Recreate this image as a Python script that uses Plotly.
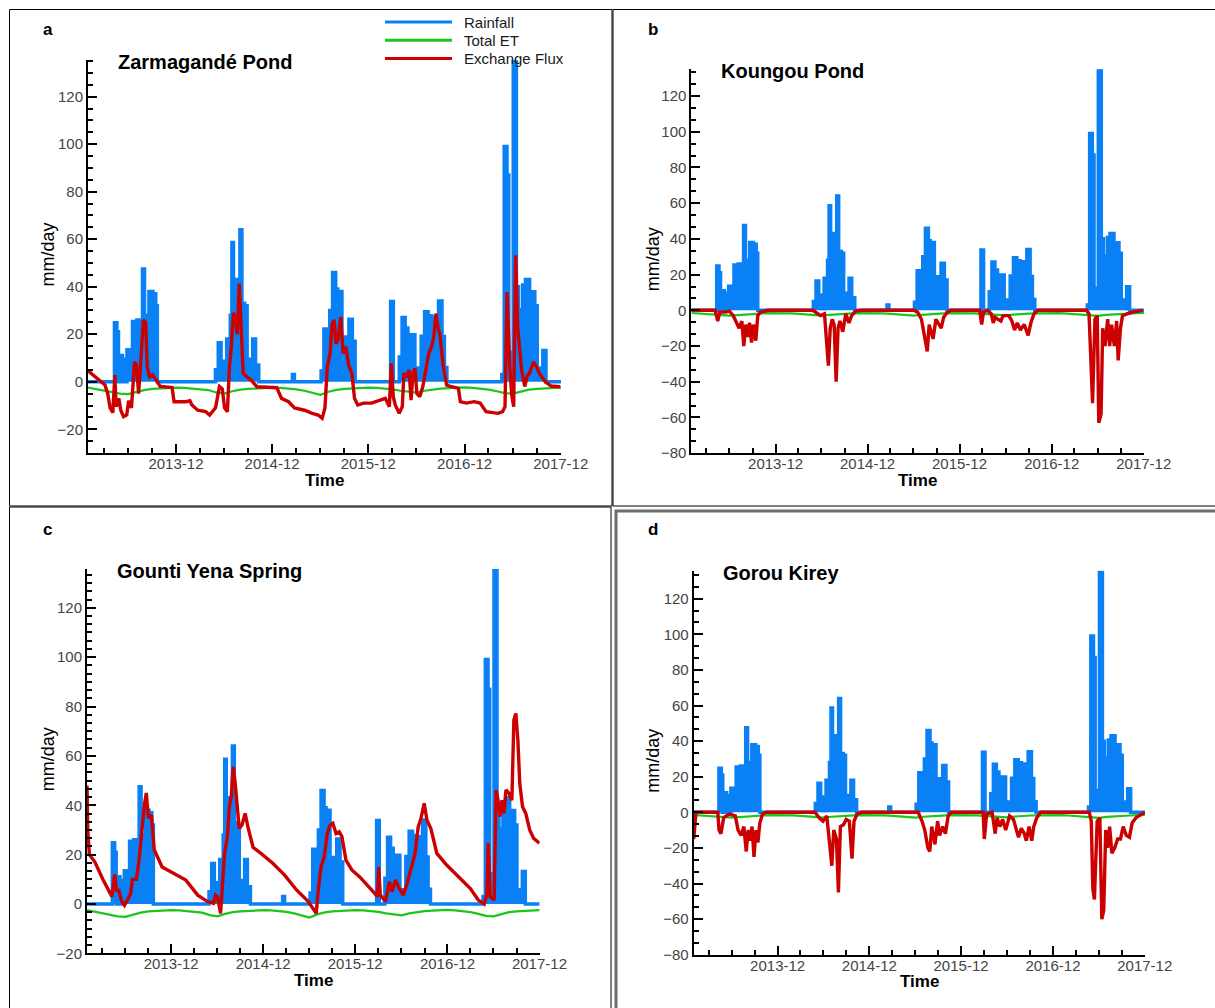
"""Rainfall, total ET and exchange flux at four Sahelian water bodies (2013-2017)."""
import pandas as pd
import plotly.graph_objects as go

W, H = 1215, 1008
FONT = "Liberation Sans, Arial, sans-serif"
BLUE, GREEN, RED = "#0a80f5", "#19c619", "#cc0000"
T0 = pd.Timestamp("2013-01-01")

# ---- data (time in months since 2013-01-01, values in mm/day) ----
rain_month = [0, 3.30, 3.60, 3.80, 4.05, 4.30, 4.50, 4.86, 5.15, 5.40, 5.55, 6.10, 6.55, 6.80, 7.05,
              7.30, 7.50, 7.60, 8.10, 8.45, 8.65,
              15.90, 16.25, 16.60, 16.95, 17.30, 17.75, 17.95, 18.15, 18.45, 18.75, 18.95, 19.20,
              19.55, 19.85, 20.20, 20.55, 20.90, 21.30,
              25.50, 25.75,
              29.08, 29.43, 29.94, 30.16, 30.51, 30.90, 31.16, 31.25, 31.68, 31.90, 32.24, 32.55,
              32.98, 33.33,
              37.75, 38.09, 38.83, 39.18, 39.57, 39.91, 40.26, 40.43, 40.78, 41.00, 41.43, 41.56,
              41.99, 42.43, 42.86, 43.38, 43.73, 44.16, 44.46, 44.77,
              51.62, 51.92, 52.27, 52.49, 52.92, 53.05, 53.44, 53.70, 54.00, 54.22, 54.57, 55.09,
              55.31, 55.74, 56.04, 56.30, 56.61, 56.74, 57.13, 59]
rain_mm = [0, 24.8, 21, 0, 11, 9.5, 0, 13.5, 12, 2, 25.4, 26, 9, 47.5, 28,
           22, 3, 38, 37, 32, 0,
           5, 16.4, 8.6, 1, 18, 28, 58.6, 40, 43, 27, 64, 33,
           32, 8.6, 9.5, 18, 7, 0,
           3, 0,
           4.5, 22.2, 21.6, 30, 46, 39, 3, 38, 9.5, 18.8, 9.5, 26.3,
           17, 0,
           33.8, 0, 10.4, 27, 22.6, 19.8, 5.8, 19.8, 4.9, 5.8, 1, 19.2,
           29.5, 27.8, 27.2, 15, 34, 19, 6, 0,
           3, 99, 87, 2, 12.3, 135, 40, 30.4, 20.7, 40.7, 43, 22.6,
           37.9, 32, 4.3, 5.8, 1, 13.2, 0, 0]

et_month = list(range(60))
et_ponds_ac = [-2.5, -3.2, -3.8, -4.3, -5.0, -5.2, -4.3, -3.5, -3.0, -2.8, -2.6, -2.5,
               -2.6, -2.8, -3.0, -3.5, -4.5, -5.0, -4.0, -3.3, -3.0, -2.8, -2.6, -2.5,
               -2.6, -2.8, -3.2, -3.8, -4.6, -5.5, -4.2, -3.4, -3.0, -2.8, -2.6, -2.5,
               -2.6, -2.8, -3.2, -3.8, -4.3, -4.6, -3.8, -3.2, -2.9, -2.7, -2.5, -2.4,
               -2.6, -2.9, -3.3, -4.0, -4.8, -5.0, -4.0, -3.3, -3.0, -2.8, -2.6, -2.5]
et_ponds_bd = [-1.5, -1.7, -2.0, -2.3, -2.7, -3.0, -2.6, -2.2, -2.0, -1.8, -1.6, -1.5,
               -1.5, -1.7, -2.0, -2.3, -2.8, -3.0, -2.5, -2.1, -1.9, -1.7, -1.6, -1.5,
               -1.5, -1.7, -2.0, -2.4, -2.9, -3.0, -2.5, -2.1, -1.9, -1.7, -1.6, -1.5,
               -1.5, -1.7, -2.0, -2.3, -2.6, -2.8, -2.4, -2.0, -1.8, -1.7, -1.6, -1.5,
               -1.6, -1.8, -2.1, -2.5, -3.0, -3.1, -2.6, -2.2, -2.0, -1.8, -1.6, -1.5]

flux_a_month = [0, 0.89, 2.12, 2.46, 2.76, 3.10, 3.35, 3.50, 3.84, 4.09,
                4.43, 4.83, 5.07, 5.42, 5.81, 6.06, 6.31, 6.55, 6.90, 7.19,
                7.39, 7.68, 8.03, 8.52, 9.01, 10.49, 10.74, 12.22, 12.71, 12.96,
                13.69, 14.68, 15.17, 15.91, 16.40, 16.75, 17.04, 17.39, 17.64, 17.88,
                18.13, 18.37, 18.62, 18.87, 19.11, 19.36, 19.85, 20.34, 21.08, 23.55,
                24.14, 25.02, 25.76, 27.00, 27.98, 28.72, 29.21, 29.56, 29.85, 30.20,
                30.44, 30.69, 30.94, 31.18, 31.53, 31.82, 32.17, 32.51, 32.91, 33.25,
                33.65, 34.38, 35.37, 36.35, 37.09, 37.59, 37.83, 38.08, 38.33, 38.82,
                39.21, 39.41, 39.80, 40.05, 40.30, 40.54, 40.79, 41.03, 41.38, 41.77,
                42.17, 42.51, 42.86, 43.15, 43.40, 43.65, 43.89, 44.14, 44.33, 44.73,
                45.22, 46.21, 46.45, 47.19, 48.18, 48.92, 49.66, 51.13, 51.72, 52.02,
                52.27, 52.61, 52.86, 53.10, 53.35, 53.60, 53.84, 54.09, 54.48, 54.83,
                55.07, 55.57, 55.96, 56.31, 57.04, 57.78, 58.92]
flux_a = [4.6, 2, -1.4, -5, -11, -13, 2.8, -10.5, -7, -12,
          -14.7, -14, -8, -11, 8.4, 7, -5, 6.3, 26, 25,
          6, 2, 3, 0.7, -2, -2.5, -8.4, -8.4, -8, -9.8,
          -12, -12.6, -14, -11, -2, -3, -11, -12.6, 6, 15,
          29, 26.6, 20, 41.3, 21.7, 3.5, 2, 0.7, -2.1, -2.5,
          -7, -8.4, -11, -12, -13.3, -14, -15.4, -11, 6.3, 12,
          24, 26, 16, 17.5, 27.3, 12, 14.7, 7, 3.5, -7,
          -9.8, -9, -9, -7.7, -7, -10.5, 7.7, -6.3, -9.8, -13.3,
          -10.5, 3.5, 2, 5, -7.7, 3.5, 5.6, -5, -6.3, -2,
          6.3, 12, 14.7, 19, 28.7, 23, 20, 12.6, 6.3, -1.4,
          -2, -2.8, -8.4, -9, -8.4, -9, -12.6, -13.3, -12.6, -10.5,
          37.8, 6.3, -5.6, -10.5, 53.2, 23, 13.3, 5, -2, 2.8,
          3.5, 8.4, 6.3, 3.5, 0, -1.8, -2.1]

flux_b_month = [0, 3.09, 3.44, 3.69, 4.45, 4.96, 5.46, 5.82, 6.22, 6.58,
                6.83, 7.08, 7.33, 7.59, 7.84, 8.09, 8.40, 8.65, 9.0, 10.0,
                15.83, 16.34, 16.84, 17.35, 17.86, 18.1, 18.36, 18.61, 18.87, 19.12,
                19.37, 19.73, 20.13, 20.54, 20.89, 21.4, 22.15, 28.98, 29.49, 29.99,
                30.35, 30.75, 31.0, 31.51, 31.87, 32.17, 32.57, 32.88, 33.28, 33.79,
                37.58, 37.84, 38.09, 38.59, 39.1, 39.35, 39.6, 39.96, 40.36, 40.62,
                41.38, 41.78, 42.13, 42.49, 42.89, 43.40, 43.9, 44.26, 44.66, 45.17,
                51.49, 51.84, 52.1, 52.3, 52.61, 52.91, 53.11, 53.41, 53.62, 53.92,
                54.27, 54.53, 54.78, 55.14, 55.44, 55.64, 55.94, 56.2, 56.8, 57.56, 58.83]
flux_b = [0, 0, -6, -1, -1, -0.5, -3, -6, -10, -6,
          -20, -8, -15, -7, -18, -8, -17, -3, -1, 0,
          0, -1.5, -3, -2, -31, -10, -5, -8, -40, -10,
          -6, -12, -2, -7, -3, -0.5, 0, 0, -1, -5,
          -13, -23, -8, -16, -5, -7, -10, -4, -1.5, 0,
          0, -8, -1, 0, -2, -7, -4, -5, -6, -3,
          -3, -6, -11, -7, -11, -8, -14, -7, -2, 0,
          0, -2, -37, -52, -5, -3, -63, -58, -10, -20,
          -5, -20, -8, -20, -6, -28, -10, -3, -2, -1, 0]

flux_c_month = [0, 0.1, 0.31, 1.03, 2.06, 2.83, 3.25, 3.61, 3.86, 4.12,
                4.53, 4.89, 5.26, 5.67, 5.92, 6.44, 6.8, 7.11, 7.47, 7.73,
                7.99, 8.4, 8.76, 9.79, 10.92, 12.88, 14.43, 15.71, 16.49, 16.74,
                17.0, 17.41, 17.67, 17.93, 18.29, 18.55, 18.8, 19.06, 19.32, 19.58,
                19.84, 20.2, 20.61, 21.02, 21.64, 22.67, 24.21, 25.76, 27.31, 28.85,
                29.62, 29.88, 30.14, 30.5, 30.91, 31.32, 31.68, 32.05, 32.46, 32.87,
                33.23, 33.75, 34.52, 35.55, 37.09, 37.87, 38.02, 38.23, 38.9, 39.41,
                39.77, 40.19, 40.7, 41.22, 41.73, 42.25, 42.76, 43.17, 43.53, 43.95,
                44.31, 44.82, 45.6, 46.88, 48.43, 49.97, 51.0, 51.78, 52.14, 52.29,
                52.55, 52.81, 53.07, 53.32, 53.58, 53.84, 54.1, 54.35, 54.61, 55.02,
                55.38, 55.64, 55.9, 56.16, 56.41, 56.77, 57.19, 57.7, 58.22, 58.99]
flux_c = [48, 30, 20, 17, 10, 5, 3, 12, 5, 6,
          1, -0.5, 2, 4, 10, 10, 18, 30, 40, 45,
          35, 36, 22, 15, 13, 9.7, 3.6, 1, 0.3, 3.6,
          3, -3.8, 8.4, 20.5, 27, 39, 43.5, 55.6, 48.8, 39,
          30.6, 32, 36.7, 30.6, 23, 20.5, 16.5, 11.7, 5.7, 1,
          -2.4, -3.8, 5.7, 15, 19, 28.6, 32, 32.7, 28.6, 29.3,
          27.3, 17.8, 13.8, 11, 5.7, 3, 15, 3.6, 1, 9,
          5, 9.7, 6.3, 3.6, 8.4, 15, 20.5, 31.3, 34.7, 40.8,
          34, 30.6, 20.5, 15.8, 11, 6.3, 1.6, 0, 4.3, 24.6,
          3, 2.3, 1.6, 46.2, 42, 35.4, 42, 36.7, 46.2, 44.8,
          42, 74.5, 77.2, 66.4, 48.8, 39.4, 36.7, 30, 26.6, 24.6]

flux_d_month = [0, 0.3, 3.15, 3.31, 3.56, 3.92, 4.68, 5.44, 5.8, 6.2,
                6.56, 6.87, 7.12, 7.38, 7.63, 7.88, 8.14, 8.39, 8.65, 9.0,
                9.51, 15.87, 16.38, 16.89, 17.4, 17.8, 18.06, 18.31, 18.67, 18.92,
                19.18, 19.58, 19.94, 20.35, 20.7, 20.96, 21.36, 21.97, 29.35, 29.86,
                30.21, 30.62, 30.87, 31.13, 31.54, 31.89, 32.15, 32.55, 32.91, 33.27,
                33.67, 37.84, 38.0, 38.3, 39.01, 39.42, 39.67, 40.03, 40.39, 40.79,
                41.3, 41.81, 42.22, 42.47, 42.83, 43.23, 43.49, 43.85, 44.2, 44.46,
                44.86, 45.37, 51.73, 51.98, 52.19, 52.39, 52.75, 53.1, 53.36, 53.61,
                53.87, 54.12, 54.38, 54.68, 55.04, 55.44, 55.8, 56.15, 56.56, 56.97,
                57.32, 57.83, 59]
flux_d = [-15, 0, 0, -10, -12, -3, -1, -2, -10, -13,
          -8, -22, -10, -16, -8, -25, -10, -17, -6, -1,
          0, 0, -3, -5, -2, -20, -30, -10, -15, -45,
          -8, -7, -4, -5, -26, -5, -1, 0, 0, -5,
          -10, -20, -22, -8, -18, -5, -13, -8, -12, -2,
          0, 0, -15, -1, 0, -12, -3, -8, -4, -10,
          -2, -4, -10, -14, -9, -12, -16, -8, -16, -8,
          -3, 0, 0, -5, -43, -49, -5, -3, -60, -55,
          -10, -20, -8, -23, -20, -15, -15, -8, -13, -14,
          -6, -3, 0]

# panel: letter, title, ET, flux, y-range, minor y step, plot box in px (left, top, right, bottom)
panels = [
    ("a", "Zarmagandé Pond", et_ponds_ac, (flux_a_month, flux_a), (-30, 135.5), 5,
     (88, 59.9, 561, 453)),
    ("b", "Koungou Pond", et_ponds_bd, (flux_b_month, flux_b), (-80, 135), 20 / 3,
     (691.4, 69.2, 1144, 453.2)),
    ("c", "Gounti Yena Spring", et_ponds_ac, (flux_c_month, flux_c), (-20, 135.7), 20 / 6,
     (87, 569, 539.7, 953.4)),
    ("d", "Gorou Kirey", et_ponds_bd, (flux_d_month, flux_d), (-80, 135.7), 20 / 3,
     (693.7, 570.8, 1145, 954.7)),
]


def to_dates(months):
    return [T0 + pd.Timedelta(days=m * 30.4375) for m in months]


def px(x):
    return x / W


def py(y):
    return 1 - y / H


fig = go.Figure()
layout = {}
annotations = []
for i, (letter, title, et, (fm, fv), yr, minor_dy, box) in enumerate(panels):
    n = "" if i == 0 else str(i + 1)
    xa, ya = "x" + n, "y" + n
    left, top, right, bottom = box

    fig.add_trace(go.Scatter(x=to_dates(rain_month), y=rain_mm, mode="lines", line_shape="hv",
                             line=dict(color=BLUE, width=3.5), fill="tozeroy", fillcolor=BLUE,
                             xaxis=xa, yaxis=ya, showlegend=False, hoverinfo="skip"))
    fig.add_trace(go.Scatter(x=to_dates(et_month), y=et, mode="lines",
                             line=dict(color=GREEN, width=2.2),
                             xaxis=xa, yaxis=ya, showlegend=False, hoverinfo="skip"))
    fig.add_trace(go.Scatter(x=to_dates(fm), y=fv, mode="lines",
                             line=dict(color=RED, width=3.4),
                             xaxis=xa, yaxis=ya, showlegend=False, hoverinfo="skip"))

    layout["xaxis" + n] = dict(
        domain=[px(left), px(right)], anchor=ya, type="date", automargin=False,
        range=["2013-01-01", "2017-12-02"], tick0="2013-12-01", dtick="M12", tickformat="%Y-%m",
        ticks="inside", ticklen=9, tickwidth=2, tickcolor="black", ticklabelstandoff=-4,
        showline=True, linecolor="black", linewidth=2, showgrid=False, zeroline=False,
        tickfont=dict(family=FONT, size=15, color="#444444"),
        minor=dict(ticks="inside", ticklen=5, tickwidth=1.5, tickcolor="black",
                   dtick="M3", tick0="2013-12-01", showgrid=False),
    )
    layout["yaxis" + n] = dict(
        domain=[py(bottom), py(top)], anchor=xa, range=list(yr), tick0=0, dtick=20,
        automargin=False,
        ticks="inside", ticklen=9, tickwidth=2, tickcolor="black",
        showline=True, linecolor="black", linewidth=2, showgrid=False, zeroline=False,
        tickfont=dict(family=FONT, size=15, color="#444444"), ticklabelstandoff=0,
        minor=dict(ticks="inside", ticklen=5, tickwidth=1.5, tickcolor="black",
                   dtick=minor_dy, tick0=0, showgrid=False),
    )

    ox = 0 if left < 600 else 605
    oy = 0 if top < 500 else 500
    annotations += [
        dict(text=f"<b>{letter}</b>", x=px(ox + 47.5), y=py(oy + 29.5), font=dict(size=17)),
        dict(text=f"<b>{title}</b>", x=px(left + 27.5), y=py(top + 2), xanchor="left",
             font=dict(size=20)),
        dict(text="mm/day", x=px(ox + 48), y=py((top + bottom) / 2 - 2), textangle=-90,
             font=dict(size=18)),
        dict(text="<b>Time</b>", x=px((left + right) / 2), y=py(bottom + 27), font=dict(size=17)),
    ]

# legend drawn in panel a
legend_items = [("Rainfall", BLUE), ("Total ET", GREEN), ("Exchange Flux", RED)]
shapes = []
for k, (name, col) in enumerate(legend_items):
    yy = 22 + k * 18.3
    shapes.append(dict(type="line", xref="paper", yref="paper", x0=px(385), x1=px(452),
                       y0=py(yy), y1=py(yy), line=dict(color=col, width=3)))
    annotations.append(dict(text=name, x=px(462), y=py(yy), xanchor="left",
                            font=dict(size=15, color="#1a1a1a")))

# panel frames
for x0, y0, x1, y1, col, w in [(9.5, 9.5, 612, 506, "black", 1), (613, 9.5, 1220, 506, "black", 1),
                               (9.5, 507, 611, 1015, "black", 1),
                               (616, 511, 1220, 1015, "#6e6e6e", 3)]:
    shapes.append(dict(type="rect", xref="paper", yref="paper", x0=px(x0), x1=px(x1),
                       y0=py(y1), y1=py(y0), line=dict(color=col, width=w)))

for a in annotations:
    a.update(xref="paper", yref="paper", showarrow=False)
    a.setdefault("xanchor", "center")
    a["yanchor"] = "middle"
    a["font"] = dict(family=FONT, color=a["font"].get("color", "black"), size=a["font"]["size"])

fig.update_layout(
    width=W, height=H, margin=dict(l=0, r=0, t=0, b=0, autoexpand=False),
    paper_bgcolor="white", plot_bgcolor="white",
    annotations=annotations, shapes=shapes, showlegend=False, **layout,
)
# page body has an 8px default margin; drop it so the figure fills the window exactly
fig.write_html("out.html", config={"displayModeBar": False},
               post_script="document.body.style.margin='0';document.body.style.overflow='hidden';")
